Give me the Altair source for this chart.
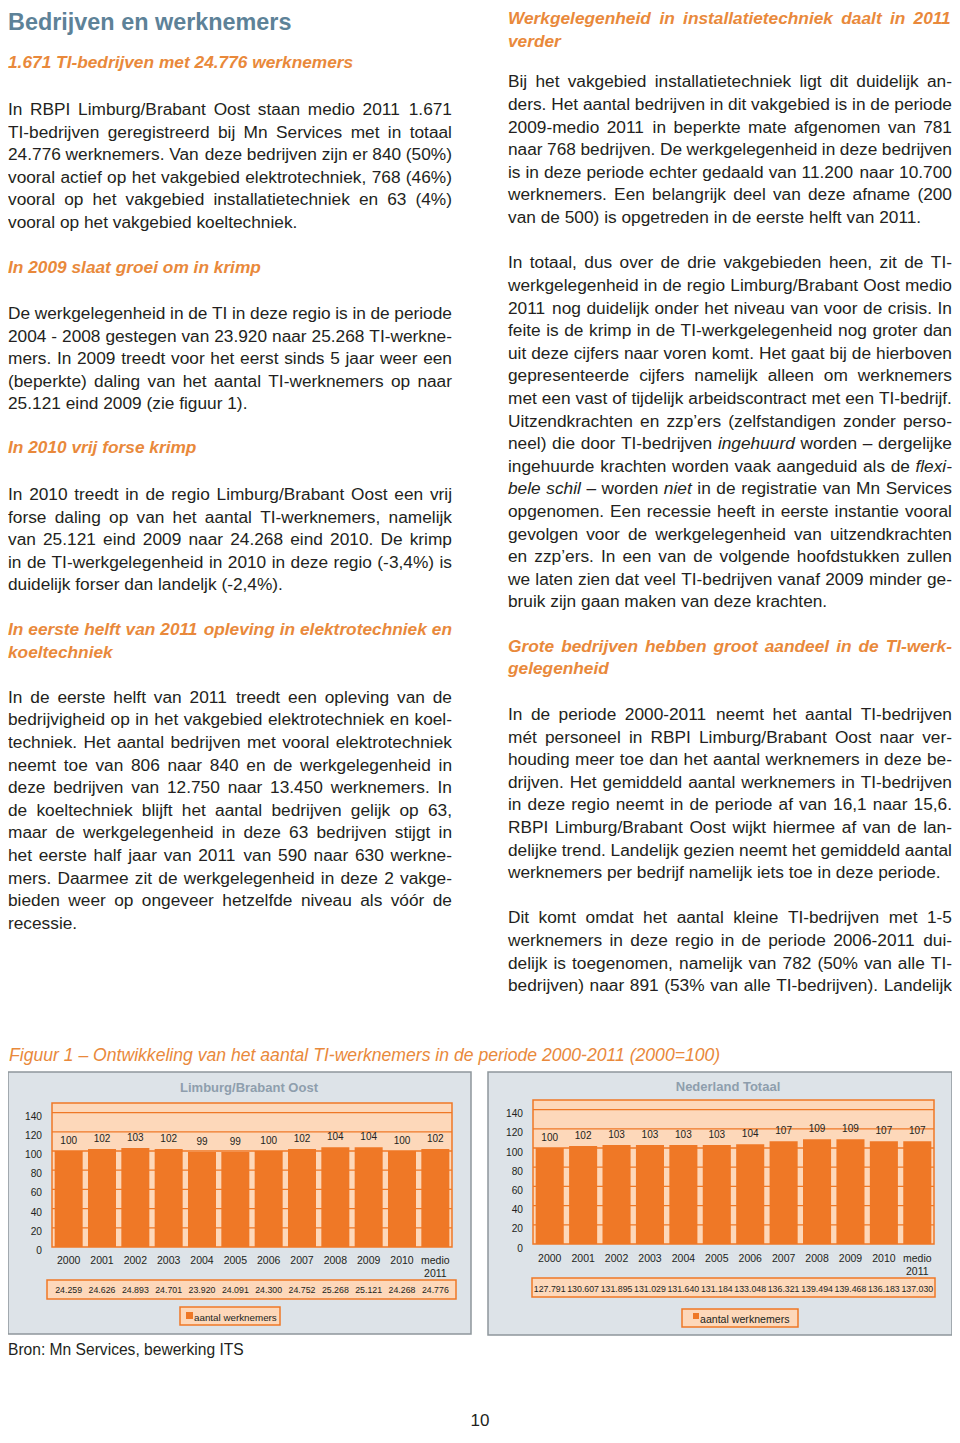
import altair as alt
import pandas as pd

# ------------------------------------------------------------------ chart data
YEARS = ["2000", "2001", "2002", "2003", "2004", "2005", "2006", "2007",
         "2008", "2009", "2010", "medio 2011"]
LB_INDEX = [100, 102, 103, 102, 99, 99, 100, 102, 104, 104, 100, 102]
LB_WORKERS = [24259, 24626, 24893, 24701, 23920, 24091, 24300, 24752,
              25268, 25121, 24268, 24776]
NL_INDEX = [100, 102, 103, 103, 103, 103, 104, 107, 109, 109, 107, 107]
NL_WORKERS = [127791, 130607, 131895, 131029, 131640, 131184, 133048,
              136321, 139494, 139468, 136183, 137030]
Y_TICKS = [0, 20, 40, 60, 80, 100, 120, 140]

LB_TITLE = "Limburg/Brabant Oost"
NL_TITLE = "Nederland Totaal"
LEGEND_LABEL = "aantal werknemers"
FIG_TITLE = ("Figuur 1 – Ontwikkeling van het aantal TI-werknemers in de "
             "periode 2000-2011 (2000=100)")
SOURCE = "Bron: Mn Services, bewerking ITS"
PAGE_NUMBER = "10"

# ------------------------------------------------------------------ page text
PAGE_TITLE = ["Bedrijven en werknemers"]

L_H1 = ["1.671 TI-bedrijven met 24.776 werknemers"]
L_P1 = [
    "In RBPI Limburg/Brabant Oost staan medio 2011 1.671",
    "TI-bedrijven geregistreerd bij Mn Services met in totaal",
    "24.776 werknemers. Van deze bedrijven zijn er 840 (50%)",
    "vooral actief op het vakgebied elektrotechniek, 768 (46%)",
    "vooral op het vakgebied installatietechniek en 63 (4%)",
    "vooral op het vakgebied koeltechniek.",
]
L_H2 = ["In 2009 slaat groei om in krimp"]
L_P2 = [
    "De werkgelegenheid in de TI in deze regio is in de periode",
    "2004 - 2008 gestegen van 23.920 naar 25.268 TI-werkne-",
    "mers. In 2009 treedt voor het eerst sinds 5 jaar weer een",
    "(beperkte) daling van het aantal TI-werknemers op naar",
    "25.121 eind 2009 (zie figuur 1).",
]
L_H3 = ["In 2010 vrij forse krimp"]
L_P3 = [
    "In 2010 treedt in de regio Limburg/Brabant Oost een vrij",
    "forse daling op van het aantal TI-werknemers, namelijk",
    "van 25.121 eind 2009 naar 24.268 eind 2010. De krimp",
    "in de TI-werkgelegenheid in 2010 in deze regio (-3,4%) is",
    "duidelijk forser dan landeljk (-2,4%).",
]
L_H4 = ["In eerste helft van 2011 opleving in elektrotechniek en",
        "koeltechniek"]
L_P4 = [
    "In de eerste helft van 2011 treedt een opleving van de",
    "bedrijvigheid op in het vakgebied elektrotechniek en koel-",
    "techniek. Het aantal bedrijven met vooral elektrotechniek",
    "neemt toe van 806 naar 840 en de werkgelegenheid in",
    "deze bedrijven van 12.750 naar 13.450 werknemers. In",
    "de koeltechniek blijft het aantal bedrijven gelijk op 63,",
    "maar de werkgelegenheid in deze 63 bedrijven stijgt in",
    "het eerste half jaar van 2011 van 590 naar 630 werkne-",
    "mers. Daarmee zit de werkgelegenheid in deze 2 vakge-",
    "bieden weer op ongeveer hetzelfde niveau als vóór de",
    "recessie.",
]

R_H1 = ["Werkgelegenheid in installatietechniek daalt in 2011", "verder"]
R_P1 = [
    "Bij het vakgebied installatietechniek ligt dit duidelijk an-",
    "ders. Het aantal bedrijven in dit vakgebied is in de periode",
    "2009-medio 2011 in beperkte mate afgenomen van 781",
    "naar 768 bedrijven. De werkgelegenheid in deze bedrijven",
    "is in deze periode echter gedaald van 11.200 naar 10.700",
    "werknemers. Een belangrijk deel van deze afname (200",
    "van de 500) is opgetreden in de eerste helft van 2011.",
]
R_P2 = [
    "In totaal, dus over de drie vakgebieden heen, zit de TI-",
    "werkgelegenheid in de regio Limburg/Brabant Oost medio",
    "2011 nog duidelijk onder het niveau van voor de crisis. In",
    "feite is de krimp in de TI-werkgelegenheid nog groter dan",
    "uit deze cijfers naar voren komt. Het gaat bij de hierboven",
    "gepresenteerde cijfers namelijk alleen om werknemers",
    "met een vast of tijdelijk arbeidscontract met een TI-bedrijf.",
    "Uitzendkrachten en zzp’ers (zelfstandigen zonder perso-",
    "neel) die door TI-bedrijven _ingehuurd_ worden – dergelijke",
    "ingehuurde krachten worden vaak aangeduid als de _flexi-_",
    "_bele_ _schil_ – worden _niet_ in de registratie van Mn Services",
    "opgenomen. Een recessie heeft in eerste instantie vooral",
    "gevolgen voor de werkgelegenheid van uitzendkrachten",
    "en zzp’ers. In een van de volgende hoofdstukken zullen",
    "we laten zien dat veel TI-bedrijven vanaf 2009 minder ge-",
    "bruik zijn gaan maken van deze krachten.",
]
R_H2 = ["Grote bedrijven hebben groot aandeel in de TI-werk-",
        "gelegenheid"]
R_P3 = [
    "In de periode 2000-2011 neemt het aantal TI-bedrijven",
    "mét personeel in RBPI Limburg/Brabant Oost naar ver-",
    "houding meer toe dan het aantal werknemers in deze be-",
    "drijven. Het gemiddeld aantal werknemers in TI-bedrijven",
    "in deze regio neemt in de periode af van 16,1 naar 15,6.",
    "RBPI Limburg/Brabant Oost wijkt hiermee af van de lan-",
    "delijke trend. Landelijk gezien neemt het gemiddeld aantal",
    "werknemers per bedrijf namelijk iets toe in deze periode.",
]
R_P4 = [
    "Dit komt omdat het aantal kleine TI-bedrijven met 1-5",
    "werknemers in deze regio in de periode 2006-2011 dui-",
    "delijk is toegenomen, namelijk van 782 (50% van alle TI-",
    "bedrijven) naar 891 (53% van alle TI-bedrijven). Landelijk",
]

# ------------------------------------------------------------------ styles / layout
FONT = "Liberation Sans"
INK = "#231f20"
HEAD_ORANGE = "#e9893b"
TITLE_BLUE = "#5d8298"
BAR = "#ef7826"
PEACH = "#fdd8ba"
PANEL_BG = "#dde3e8"
PANEL_EDGE = "#8f979c"
PANEL_TITLE = "#8e9ead"

SIZES = {"body": 17.3, "head": 17.3, "title": 23.4}
PITCH = 22.6
COL_W = 444
LEFT_X, RIGHT_X = 0, 500
CANVAS_W, CANVAS_H = 944, 1422


def _tbl(spec):
    d = {}
    for chars, w in spec:
        for c in chars:
            d[c] = w
    return d


REG_W = _tbl([
    (" !,./:;Ift", 278), ("ijl’‘", 222), ("()-r", 333), ('"', 355), ("*", 389),
    ("Jckssvxyz", 500),
    ("0123456789$#?Labdeghnopqué–ó", 556), ("+<=>", 584), ("FTZ", 611),
    ("&ABEKPSVXY", 667), ("CDHNRUw", 722), ("GOQ", 778), ("Mm", 833),
    ("%", 889), ("W", 944), ("@", 1015),
])
BOLD_W = _tbl([
    (" ,./Iijl’", 278), ("!:;()-ft", 333), ("r", 389), ("z", 500),
    ("0123456789Jacekssvxy–", 556), ("=+", 584), ("FLTZbdghnopqu", 611),
    ("EPSVXY", 667), ("ABCDHKNRU", 722), ("GOQw", 778), ("M", 833),
    ("%m", 889), ("W", 944),
])


def text_width(s, size, bold):
    t = BOLD_W if bold else REG_W
    return sum(t.get(c, 556) for c in s) * size / 1000.0


rows = []


def place(lines, kind, x0, y0, justify_last=False):
    size = SIZES[kind]
    bold = kind in ("head", "title")
    space = text_width(" ", size, bold)
    for i, line in enumerate(lines):
        y = y0 + i * PITCH
        justify = kind != "title" and (i < len(lines) - 1 or justify_last)
        words = []
        for tok in line.split(" "):
            ital = len(tok) > 2 and tok.startswith("_") and tok.endswith("_")
            words.append((tok.strip("_") if ital else tok, ital))
        widths = [text_width(w, size, bold) for w, _ in words]
        if justify and len(words) > 1:
            gap = (COL_W - sum(widths)) / (len(words) - 1)
        else:
            gap = space
        x = x0
        for (w, ital), wd in zip(words, widths):
            rows.append({"t": w, "x": round(x, 2), "y": round(y, 2),
                         "k": "ital" if ital else kind})
            x += wd + gap


# left column
place(PAGE_TITLE, "title", LEFT_X, 21.5)
place(L_H1, "head", LEFT_X, 60.3)
place(L_P1, "body", LEFT_X, 107.0)
place(L_H2, "head", LEFT_X, 265.3)
place(L_P2, "body", LEFT_X, 311.0)
place(L_H3, "head", LEFT_X, 445.3)
place(L_P3, "body", LEFT_X, 492.0)
place(L_H4, "head", LEFT_X, 627.0)
place(L_P4, "body", LEFT_X, 694.7)
# right column
place(R_H1, "head", RIGHT_X, 16.0)
place(R_P1, "body", RIGHT_X, 79.3)
place(R_P2, "body", RIGHT_X, 260.3)
place(R_H2, "head", RIGHT_X, 643.7)
place(R_P3, "body", RIGHT_X, 712.0)
place(R_P4, "body", RIGHT_X, 915.3, justify_last=True)

WORDS = pd.DataFrame(rows)


def words_layer(kind, **style):
    return (
        alt.Chart(WORDS)
        .transform_filter(alt.datum.k == kind)
        .mark_text(align="left", baseline="alphabetic", font=FONT, **style)
        .encode(
            x=alt.X("x:Q", scale=None, axis=None),
            y=alt.Y("y:Q", scale=None, axis=None),
            text="t:N",
        )
    )


ONE = pd.DataFrame({"k": [0]})


def box(x1, x2, y1, y2, fill, stroke=None, sw=0.0):
    return alt.Chart(ONE).mark_rect(
        fill=fill, stroke=stroke if stroke else fill, strokeWidth=sw
    ).encode(x=alt.value(x1), x2=alt.value(x2), y=alt.value(y1), y2=alt.value(y2))


def label(text, x, y, size, color=INK, align="left", **style):
    return alt.Chart(ONE).mark_text(
        align=align, baseline="alphabetic", font=FONT, fontSize=size,
        color=color, **style
    ).encode(x=alt.value(x), y=alt.value(y), text=alt.value(text))


def dutch(n):
    return f"{n:,}".replace(",", ".")


def panel(index, workers, title, g):
    df = pd.DataFrame({"year": YEARS, "idx": index,
                       "n": [dutch(v) for v in workers]})
    ticks = pd.DataFrame({"tick": Y_TICKS})
    xsc = alt.Scale(domain=YEARS, range=[g["px1"], g["px2"]],
                    paddingInner=0.16, paddingOuter=0.08)
    ysc = alt.Scale(domain=[0, 150], range=[g["py2"], g["py1"]])
    X = alt.X("year:N", scale=xsc, axis=None, sort=None)
    Y = alt.Y("idx:Q", scale=ysc, axis=None)
    YT = alt.Y("tick:Q", scale=ysc, axis=None)

    bg = box(g["bx1"], g["bx2"], g["by1"], g["by2"], PANEL_BG, PANEL_EDGE, 1.5)
    ttl = label(title, g["tx"], g["ty"], 13, PANEL_TITLE, "center",
                fontWeight="bold")
    plot = box(g["px1"], g["px2"], g["py1"], g["py2"], PEACH, BAR, 1.5)
    grid = (
        alt.Chart(ticks).transform_filter(alt.datum.tick > 0)
        .mark_rule(color=BAR, strokeWidth=1.3)
        .encode(y=YT, x=alt.value(g["px1"]), x2=alt.value(g["px2"]))
    )
    bars = alt.Chart(df).mark_bar(color=BAR).encode(x=X, y=Y)
    vals = alt.Chart(df).mark_text(
        baseline="middle", dy=-10, fontSize=10, font=FONT, color=INK
    ).encode(x=X, y=Y, text="idx:Q")
    ylab = alt.Chart(ticks).mark_text(
        align="right", baseline="middle", dy=g["ydy"], fontSize=10.2,
        font=FONT, color=INK
    ).encode(y=YT, x=alt.value(g["ylx"]), text="tick:Q")
    xlab = alt.Chart(df).mark_text(
        baseline="alphabetic", fontSize=10.5, font=FONT, color=INK,
        lineBreak=" ", lineHeight=13
    ).encode(x=X, y=alt.value(g["xly"]), text="year:N")
    tbox = box(g["tx1"], g["tx2"], g["ty1"], g["ty2"], PEACH, BAR, 1.5)
    ttxt = alt.Chart(df).mark_text(
        baseline="alphabetic", fontSize=8.8, font=FONT, color=INK
    ).encode(x=X, y=alt.value(g["tty"]), text="n:N")
    lbox = box(g["lx1"], g["lx2"], g["ly1"], g["ly2"], PEACH, BAR, 1.5)
    lsq = box(g["sx1"], g["sx2"], g["sy1"], g["sy2"], BAR)
    ltxt = label(LEGEND_LABEL, g["ltx"], g["lty"], g["lfs"])
    return alt.layer(bg, ttl, plot, grid, bars, vals, ylab, xlab,
                     tbox, ttxt, lbox, lsq, ltxt)


LEFT_G = dict(bx1=0, bx2=463, by1=1064, by2=1326, tx=241, ty=1084,
              px1=44, px2=444, py1=1095, py2=1239, ylx=34, ydy=4,
              xly=1256, tx1=39, tx2=448, ty1=1272, ty2=1291, tty=1285,
              lx1=172, lx2=272, ly1=1299, ly2=1317,
              sx1=178, sx2=185, sy1=1304, sy2=1311,
              ltx=186, lty=1313, lfs=9.8)
RIGHT_G = dict(bx1=480, bx2=944, by1=1064, by2=1327, tx=720, ty=1083,
               px1=525, px2=926, py1=1092, py2=1236, ylx=515, ydy=4.5,
               xly=1254, tx1=524, tx2=927, ty1=1270, ty2=1289, tty=1284,
               lx1=674, lx2=790, ly1=1301, ly2=1319,
               sx1=685, sx2=691, sy1=1305, sy2=1311,
               ltx=692, lty=1315, lfs=10.6)

left_panel = panel(LB_INDEX, LB_WORKERS, LB_TITLE, LEFT_G)
right_panel = panel(NL_INDEX, NL_WORKERS, NL_TITLE, RIGHT_G)

page_bg = box(-2, CANVAS_W + 2, -2, CANVAS_H + 2, "white")

text_layers = [
    words_layer("title", fontSize=SIZES["title"], fontWeight="bold",
                color=TITLE_BLUE),
    words_layer("head", fontSize=SIZES["head"], fontWeight="bold",
                fontStyle="italic", color=HEAD_ORANGE),
    words_layer("body", fontSize=SIZES["body"], color=INK),
    words_layer("ital", fontSize=SIZES["body"], fontStyle="italic", color=INK),
    label(FIG_TITLE, 1, 1052.7, 17.6, HEAD_ORANGE, fontStyle="italic"),
    label(SOURCE, 0, 1347, 15.6),
    label(PAGE_NUMBER, 472, 1417.5, 17, align="center"),
]

chart = (
    alt.layer(page_bg, *text_layers, left_panel, right_panel)
    .resolve_scale(x="independent", y="independent")
    .properties(width=CANVAS_W, height=CANVAS_H, padding=0,
                autosize=alt.AutoSizeParams(type="none"))
    .configure_view(stroke="transparent", strokeWidth=0, strokeOpacity=0,
                    fill="white")
    .configure(font=FONT, background="white")
)

chart.save("out.html", embed_options={"renderer": "svg", "actions": False})
